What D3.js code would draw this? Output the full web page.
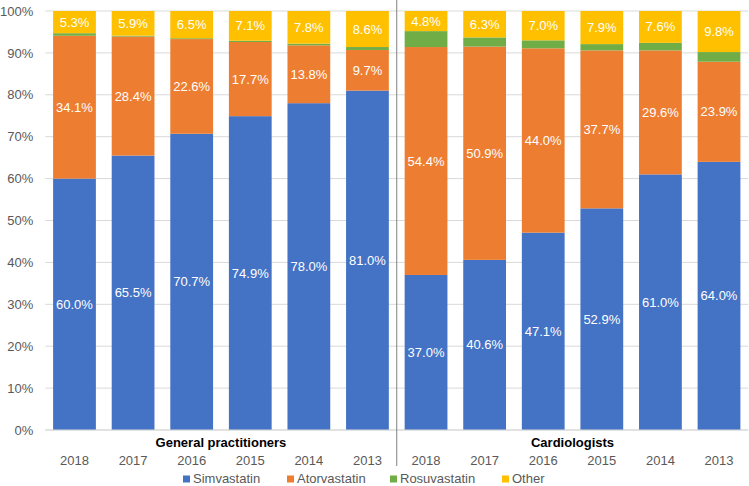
<!DOCTYPE html>
<html><head><meta charset="utf-8">
<script src="https://cdn.jsdelivr.net/npm/d3@7"></script>
<style>body{margin:0;background:#fff;}svg{display:block;font-family:"Liberation Sans",Arial,sans-serif;}</style>
</head><body>
<svg id="c" width="749" height="486"></svg>
<script>
const groups = ["General practitioners", "Cardiologists"];
const years = ["2018", "2017", "2016", "2015", "2014", "2013"];
const seriesNames = ["Simvastatin", "Atorvastatin", "Rosuvastatin", "Other"];
const colors = ["#4472C4", "#ED7D31", "#70AD47", "#FFC000"];
const simvastatin = [60.0, 65.5, 70.7, 74.9, 78.0, 81.0, 37.0, 40.6, 47.1, 52.9, 61.0, 64.0];
const atorvastatin = [34.1, 28.4, 22.6, 17.7, 13.8, 9.7, 54.4, 50.9, 44.0, 37.7, 29.6, 23.9];
const rosuvastatin = [0.6, 0.2, 0.2, 0.3, 0.4, 0.7, 3.8, 2.2, 1.9, 1.5, 1.8, 2.3];
const other = [5.3, 5.9, 6.5, 7.1, 7.8, 8.6, 4.8, 6.3, 7.0, 7.9, 7.6, 9.8];
const showLabel = [true, true, false, true];
const yTicks = [0, 10, 20, 30, 40, 50, 60, 70, 80, 90, 100];

(function () {
const svg = d3.select("#c");
const pL = 45.2, pR = 748.3, pT = 11, pB = 430;
const keys = [];
groups.forEach((g, gi) => years.forEach(y => keys.push(gi + "|" + y)));
const rows = keys.map((k, i) => ({key: k, Simvastatin: simvastatin[i], Atorvastatin: atorvastatin[i], Rosuvastatin: rosuvastatin[i], Other: other[i]}));

const x = d3.scaleBand().domain(keys).range([pL, pR]).paddingInner(0.27).paddingOuter(0.135);
const y = d3.scaleLinear().domain([0, 100]).range([pB, pT]);

svg.append("g").selectAll("line").data(yTicks).join("line")
  .attr("x1", pL).attr("x2", pR)
  .attr("y1", d => y(d)).attr("y2", d => y(d))
  .attr("stroke", "#d9d9d9").attr("stroke-width", 1);

const yAxis = d3.axisLeft(y).tickValues(yTicks).tickFormat(d => d + "%").tickSize(0).tickPadding(12);
const ya = svg.append("g").attr("transform", `translate(${pL},0)`).call(yAxis);
ya.select(".domain").remove();
ya.selectAll("text").attr("fill", "#595959").style("font-size", "13px").style("font-family", "Liberation Sans, Arial, sans-serif");

const stack = d3.stack().keys(seriesNames)(rows);
const layers = svg.append("g").selectAll("g").data(stack).join("g").attr("fill", (d, i) => colors[i]);
layers.selectAll("rect").data(d => d).join("rect")
  .attr("x", d => x(d.data.key)).attr("width", x.bandwidth())
  .attr("y", d => y(d[1])).attr("height", d => y(d[0]) - y(d[1]));

stack.forEach((layer, si) => {
  if (!showLabel[si]) return;
  svg.append("g").selectAll("text").data(layer).join("text")
    .attr("x", d => x(d.data.key) + x.bandwidth() / 2)
    .attr("y", d => (y(d[0]) + y(d[1])) / 2)
    .attr("dy", "0.35em").attr("text-anchor", "middle")
    .attr("fill", "#fff").style("font-size", "13px")
    .text(d => (d[1] - d[0]).toFixed(1) + "%");
});

svg.append("line").attr("x1", pL).attr("x2", pR).attr("y1", pB).attr("y2", pB).attr("stroke", "#d9d9d9");

const divX = (x(keys[5]) + x.bandwidth() + x(keys[6])) / 2;
svg.append("line").attr("x1", divX).attr("x2", divX).attr("y1", 0).attr("y2", 466).attr("stroke", "#7f7f7f").attr("stroke-width", 1);

svg.append("g").selectAll("text").data(keys).join("text")
  .attr("x", d => x(d) + x.bandwidth() / 2).attr("y", 465)
  .attr("text-anchor", "middle").attr("fill", "#595959").style("font-size", "13px")
  .text(d => d.split("|")[1]);

groups.forEach((g, gi) => {
  const ks = keys.filter(k => k.startsWith(gi + "|"));
  const cx = (x(ks[0]) + x(ks[ks.length - 1]) + x.bandwidth()) / 2;
  svg.append("text").attr("x", cx).attr("y", 447).attr("text-anchor", "middle")
    .attr("fill", "#000").style("font-size", "13px").style("font-weight", "bold").text(g);
});

const legX = [183, 287, 390, 502];
const leg = svg.append("g").selectAll("g").data(seriesNames).join("g")
  .attr("transform", (d, i) => `translate(${legX[i]},483)`);
leg.append("rect").attr("x", 0).attr("y", -7.5).attr("width", 7).attr("height", 7).attr("fill", (d, i) => colors[i]);
leg.append("text").attr("x", 10).attr("y", 0).attr("fill", "#595959").style("font-size", "13px").text(d => d);
})();
</script>
</body></html>
